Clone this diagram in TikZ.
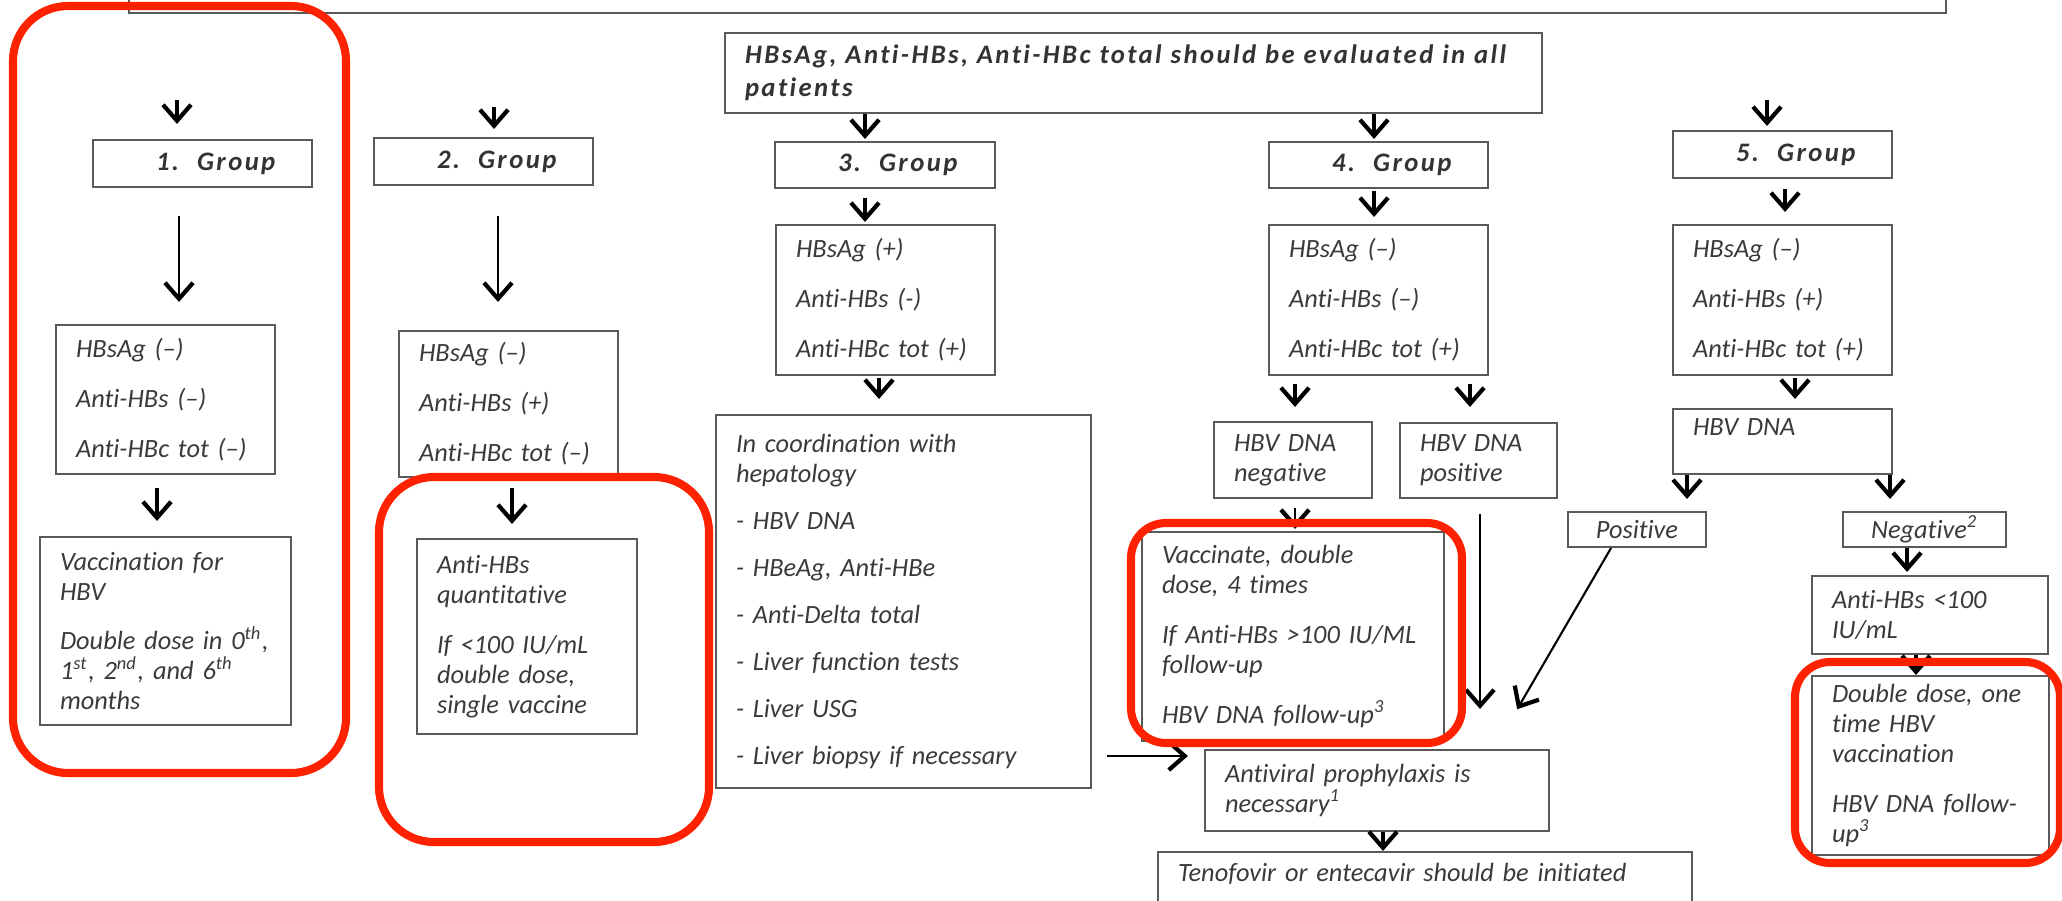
\documentclass[tikz,border=0pt]{standalone}
\usepackage{fontspec}
\setmainfont{Carlito}[Ligatures=NoCommon]
\newfontfamily\grpfont[LetterSpace=9, Ligatures=NoCommon]{Carlito}
\usetikzlibrary{arrows.meta}
\definecolor{txtgray}{HTML}{3A3A3A}
\definecolor{boxgray}{HTML}{5A5A5A}
\definecolor{markred}{RGB}{255,34,0}

\begin{document}
\begin{tikzpicture}
      \tikzstyle{STY1} = [draw=boxgray, line width=0.6pt, rectangle, inner xsep=0.2cm, inner ysep=0pt, align=left, text=txtgray, font=\fontsize{7.5}{8.5}\selectfont\itshape]
      \tikzstyle{STY2} = [-{Straight Barb[length=0.16cm,width=0.28cm,line width=1.2pt]}, line width=0.9pt, black]
      \tikzstyle{STY3} = [STY1, text=black!80, font=\fontsize{7.6}{9.4}\selectfont\grpfont\bfseries\itshape]
      \tikzstyle{STY4} = [draw=markred, line width=2.3pt]

      \useasboundingbox (0,0) rectangle (20.62,-9.00);
      \clip (0,0) rectangle (20.62,-9.00);

      %%%%% VERTEX

      \node[STY1, minimum width=18.17cm, minimum height=0.63cm](v0) at (10.375, 0.185) {};
      \node[STY3, minimum width=8.17cm, minimum height=0.80cm, text width=7.77cm](v1) at (11.335, -0.73) {\mbox{HBsAg, Anti-HBs, Anti-HBc total should be evaluated in all}\\patients};

      \node[STY3, minimum width=2.19cm, minimum height=0.47cm, text width=1.79cm](v2) at (2.025, -1.635) {\hspace*{0.43cm}1.\hspace{0.18cm}Group};
      \node[STY3, minimum width=2.19cm, minimum height=0.47cm, text width=1.79cm](v3) at (4.835, -1.615) {\hspace*{0.43cm}2.\hspace{0.18cm}Group};
      \node[STY3, minimum width=2.20cm, minimum height=0.46cm, text width=1.80cm](v4) at (8.85, -1.65) {\hspace*{0.43cm}3.\hspace{0.18cm}Group};
      \node[STY3, minimum width=2.19cm, minimum height=0.46cm, text width=1.79cm](v5) at (13.785, -1.65) {\hspace*{0.43cm}4.\hspace{0.18cm}Group};
      \node[STY3, minimum width=2.19cm, minimum height=0.47cm, text width=1.79cm](v6) at (17.825, -1.545) {\hspace*{0.43cm}5.\hspace{0.18cm}Group};

      \node[STY1, minimum width=2.19cm, minimum height=1.49cm, text width=1.79cm](v7) at (1.655, -3.995) {HBsAg (–)\\[0.2cm]Anti-HBs (–)\\[0.2cm]Anti-HBc tot (–)};
      \node[STY1, minimum width=2.19cm, minimum height=1.46cm, text width=1.79cm](v8) at (5.085, -4.04) {HBsAg (–)\\[0.2cm]Anti-HBs (+)\\[0.2cm]Anti-HBc tot (–)};
      \node[STY1, minimum width=2.19cm, minimum height=1.50cm, text width=1.79cm](v9) at (8.855, -3.00) {HBsAg (+)\\[0.2cm]Anti-HBs (-)\\[0.2cm]Anti-HBc tot (+)};
      \node[STY1, minimum width=2.19cm, minimum height=1.50cm, text width=1.79cm](v10) at (13.785, -3.00) {HBsAg (–)\\[0.2cm]Anti-HBs (–)\\[0.2cm]Anti-HBc tot (+)};
      \node[STY1, minimum width=2.19cm, minimum height=1.50cm, text width=1.79cm](v11) at (17.825, -3.00) {HBsAg (–)\\[0.2cm]Anti-HBs (+)\\[0.2cm]Anti-HBc tot (+)};

      \node[STY1, minimum width=2.51cm, minimum height=1.88cm, text width=2.11cm](v12) at (1.655, -6.31) {Vaccination for\\HBV\\[0.2cm]\mbox{Double dose in 0\textsuperscript{th},}\\\mbox{1\textsuperscript{st}, 2\textsuperscript{nd}, and 6\textsuperscript{th}}\\months};
      \node[STY1, minimum width=2.20cm, minimum height=1.95cm, text width=1.80cm](v13) at (5.27, -6.365) {Anti-HBs\\quantitative\\[0.2cm]If <100 IU/mL\\double dose,\\single vaccine};
      \node[STY1, minimum width=3.75cm, minimum height=3.73cm, text width=3.35cm](v14) at (9.035, -6.015) {In coordination with\\hepatology\\[0.17cm]- HBV DNA\\[0.17cm]- HBeAg, Anti-HBe\\[0.17cm]- Anti-Delta total\\[0.17cm]- Liver function tests\\[0.17cm]- Liver USG\\[0.17cm]- Liver biopsy if necessary};
      \node[STY1, minimum width=1.58cm, minimum height=0.76cm, text width=1.18cm](v15) at (12.93, -4.60) {HBV DNA\\negative};
      \node[STY1, minimum width=1.57cm, minimum height=0.75cm, text width=1.17cm](v16) at (14.785, -4.605) {HBV DNA\\positive};
      \node[STY1, minimum width=2.19cm, minimum height=0.65cm, text width=1.79cm](v17) at (17.825, -4.415) {HBV DNA\\\mbox{}};

      \node[STY1, minimum width=3.02cm, minimum height=2.09cm, text width=2.62cm](v18) at (12.93, -6.365) {Vaccinate, double\\dose, 4 times\\[0.2cm]If Anti-HBs >100 IU/ML\\follow-up\\[0.2cm]HBV DNA follow-up\textsuperscript{3}};
      \node[STY1, minimum width=1.38cm, minimum height=0.35cm](v19) at (16.37, -5.295) {Positive};
      \node[STY1, minimum width=1.63cm, minimum height=0.35cm](v20) at (19.245, -5.295) {Negative\textsuperscript{2}};
      \node[STY1, minimum width=2.36cm, minimum height=0.78cm, text width=1.96cm](v21) at (19.30, -6.15) {Anti-HBs <100\\IU/mL};
      \node[STY1, minimum width=3.44cm, minimum height=0.81cm, text width=3.04cm](v22) at (13.77, -7.905) {Antiviral prophylaxis is\\necessary\textsuperscript{1}};
      \node[STY1, minimum width=2.37cm, minimum height=1.79cm, text width=1.97cm](v23) at (19.305, -7.655) {Double dose, one\\time HBV\\vaccination\\[0.2cm]HBV DNA follow-\\up\textsuperscript{3}};
      \node[STY1, minimum width=5.34cm, minimum height=0.70cm, text width=4.94cm](v24) at (14.25, -8.87) {Tenofovir or entecavir should be initiated\\\mbox{}};

      %%%%% EDGES

      \coordinate (h1) at (1.77, -1.00);
      \coordinate (h2) at (4.94, -1.07);
      \coordinate (h3) at (17.67, -1.00);
      \coordinate (h4) at (1.79, 0);
      \coordinate (h5) at (1.57, 0);
      \coordinate (h6) at (4.98, 0);
      \coordinate (h7) at (5.12, 0);
      \coordinate (h8) at (8.65, 0);
      \coordinate (h9) at (8.79, 0);
      \coordinate (h10) at (13.74, 0);
      \coordinate (h11) at (12.95, 0);
      \coordinate (h12) at (14.70, 0);
      \coordinate (h13) at (14.80, 0);
      \coordinate (h14) at (13.83, 0);
      \coordinate (h15) at (17.85, 0);
      \coordinate (h16) at (17.95, 0);
      \coordinate (h17) at (16.87, 0);
      \coordinate (h18) at (18.90, 0);
      \coordinate (h19) at (19.07, 0);
      \coordinate (h20) at (19.16, 0);
      \coordinate (h21) at (0, -7.56);

      \draw[STY2, shorten >=0.15cm]  (h1) -- (v2.north -| h1);
      \draw[STY2, shorten >=0.08cm]  (h2) -- (v3.north -| h2);
      \draw[STY2, shorten >=0.04cm]  (h3) -- (v6.north -| h3);

      \draw[STY2, line width=0.7pt, shorten <=0.28cm, shorten >=0.22cm]  (v2.south -| h4) -- (v7.north -| h4);
      \draw[STY2, shorten <=0.13cm, shorten >=0.15cm]  (v7.south -| h5) -- (v12.north -| h5);
      \draw[STY2, line width=0.7pt, shorten <=0.30cm, shorten >=0.28cm]  (v3.south -| h6) -- (v8.north -| h6);
      \draw[STY2, shorten <=0.10cm, shorten >=0.14cm]  (v8.south -| h7) -- (v13.north -| h7);

      \draw[STY2, shorten >=0.02cm]  (v1.south -| h8) -- (v4.north -| h8);
      \draw[STY2, shorten <=0.09cm, shorten >=0.02cm]  (v4.south -| h8) -- (v9.north -| h8);
      \draw[STY2, shorten <=0.02cm, shorten >=0.15cm]  (v9.south -| h9) -- (v14.north -| h9);
      \draw[STY2, line width=0.7pt, shorten <=0.15cm, shorten >=0.16cm]  (v14.east |- h21) -- (v22.west |- h21);

      \draw[STY2, shorten >=0.02cm]  (v1.south -| h10) -- (v5.north -| h10);
      \draw[STY2, shorten <=0.02cm, shorten >=0.07cm]  (v5.south -| h10) -- (v10.north -| h10);
      \draw[STY2, shorten <=0.08cm, shorten >=0.14cm]  (v10.south -| h11) -- (v15.north -| h11);
      \draw[STY2, shorten <=0.08cm, shorten >=0.15cm]  (v10.south -| h12) -- (v16.north -| h12);
      \draw[STY2, line width=0.6pt, shorten <=0.09cm, shorten >=0.02cm]  (v15.south -| h11) -- (v18.north -| h11);
      \draw[STY2, line width=0.6pt, shorten <=0.15cm, shorten >=0.40cm]  (v16.south -| h13) -- (v22.north -| h13);
      \draw[STY2, line width=0.6pt, shorten >=0.46cm]  ([xshift=-0.26cm]v19.south) -- ([xshift=1.17cm]v22.north);
      \draw[STY2]  (v22.south -| h14) -- (v24.north -| h14);

      \draw[STY2, shorten <=0.10cm, shorten >=0.12cm]  (v6.south -| h15) -- (v11.north -| h15);
      \draw[STY2, shorten <=0.02cm, shorten >=0.09cm]  (v11.south -| h16) -- (v17.north -| h16);
      \draw[STY2, shorten >=0.12cm]  (v17.south -| h17) -- (v19.north -| h17);
      \draw[STY2, shorten >=0.12cm]  (v17.south -| h18) -- (v20.north -| h18);
      \draw[STY2, shorten >=0.03cm]  (v20.south -| h19) -- (v21.north -| h19);
      \draw[STY2]  (v21.south -| h20) -- (v23.north -| h20);

      %%%%% MARKS

      \draw[STY4, rounded corners=0.55cm] (0.13,-0.06) rectangle (3.46,-7.73);
      \draw[STY4, rounded corners=0.55cm] (3.79,-4.77) rectangle (7.09,-8.42);
      \draw[STY4, rounded corners=0.35cm] (11.31,-5.23) rectangle (14.62,-7.43);
      \draw[STY4, rounded corners=0.35cm] (17.95,-6.62) rectangle (20.60,-8.63);
    \end{tikzpicture}
\end{document}
